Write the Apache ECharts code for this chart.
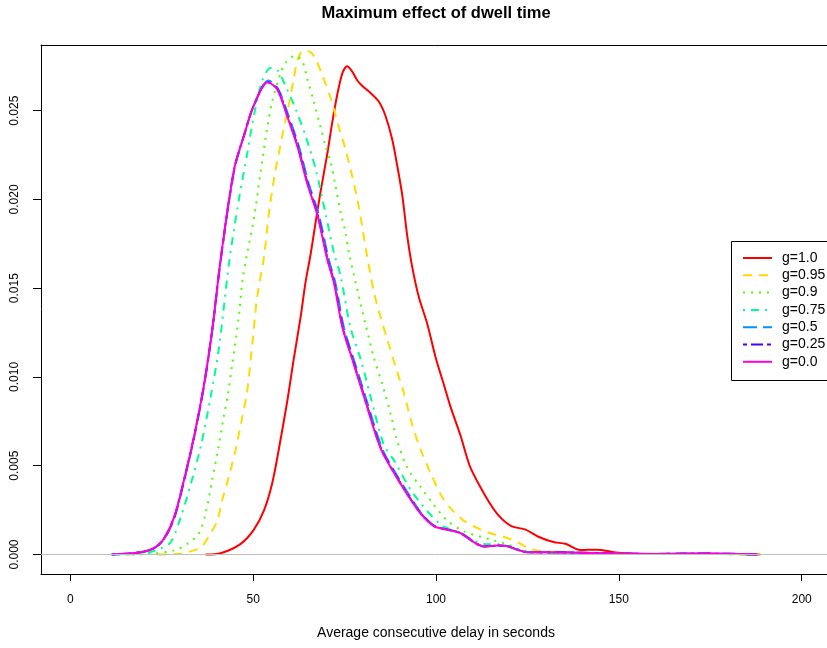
<!DOCTYPE html>
<html>
<head>
<meta charset="utf-8">
<title>Maximum effect of dwell time</title>
<script src="https://cdn.jsdelivr.net/npm/echarts@6/dist/echarts.min.js"></script>
<style>
  html, body { margin: 0; padding: 0; background: #fff; }
  #main { width: 827px; height: 648px; }
</style>
</head>
<body>
<div id="main"></div>
<script>
// labels and ticks
var seriesNames = ['g=1.0', 'g=0.95', 'g=0.9', 'g=0.75', 'g=0.5', 'g=0.25', 'g=0.0'];
var xTicks = [0, 50, 100, 150, 200];
var yTicks = [0, 0.005, 0.010, 0.015, 0.020, 0.025];

// density curves: [delay, density]
var g10 = [[37.0,0],[41.1,0.00007],[46.6,0.0006],[50.2,0.0014],[53.0,0.0025],[55.2,0.0040],[57.0,0.0059],
  [59.3,0.0086],[61.1,0.0110],[63.0,0.0134],[64.3,0.0153],[65.7,0.0169],[67.0,0.0186],[68.4,0.0204],
  [70.3,0.0226],[71.6,0.0243],[73.0,0.0259],[74.4,0.0271],[75.7,0.0275],[77.1,0.0272],[78.5,0.0267],
  [79.8,0.0264],[82.1,0.0260],[84.4,0.0255],[86.2,0.0247],[88.0,0.0234],[89.4,0.0219],[90.8,0.0202],
  [92.1,0.0180],[93.4,0.0163],[95.3,0.0145],[97.6,0.0130],[99.9,0.0111],[102.1,0.0096],[104.0,0.0083],
  [106.7,0.0067],[109.4,0.0049],[113.5,0.0033],[117.1,0.0022],[120.6,0.0016],[124.5,0.0014],[128.0,0.0010],
  [132.1,0.0007],[135.4,0.0006],[139.5,0.00025],[144.0,0.00027],[148.6,0.00013],[152.2,0.00007],
  [155.9,0.00003],[165,0.00002],[175,0.00004],[182,0.00002],[188.7,0]];

var g095 = [[23.8,0],[29.3,0.00002],[32.0,0.00013],[35.7,0.0004],[38.4,0.0012],[40.2,0.0019],[41.6,0.0031],
  [43.4,0.0044],[45.2,0.0059],[47.0,0.0077],[48.3,0.0091],[49.8,0.0119],[51.1,0.0145],[53.0,0.0168],
  [54.3,0.0192],[55.9,0.0214],[57.8,0.0234],[59.7,0.0253],[61.1,0.0268],[62.2,0.0279],[63.8,0.0284],
  [65.7,0.0283],[67.1,0.0279],[68.9,0.0270],[71.2,0.0257],[73.4,0.0241],[75.3,0.0228],[77.1,0.0213],
  [78.5,0.0200],[79.8,0.0185],[81.0,0.0170],[83.0,0.0148],[84.8,0.0134],[86.7,0.0121],[88.9,0.0106],
  [91.2,0.0091],[93.5,0.0073],[95.8,0.0059],[98.5,0.0046],[101.2,0.0034],[104.0,0.0026],[107.6,0.0019],
  [112.2,0.0014],[114.9,0.0012],[118.5,0.0010],[122.2,0.0007],[124.9,0.0004],[128.6,0.0002],
  [135.8,0.00014],[145,0.00006],[155,0.00003],[165,0.00004],[175,0.00003],[188.5,0]];

var g09 = [[17.0,0],[21.9,0.00003],[28.4,0.00023],[32.0,0.0006],[35.2,0.0012],[37.0,0.0023],[38.8,0.0042],
  [40.4,0.0059],[41.9,0.0077],[43.1,0.0090],[44.2,0.0106],[45.0,0.0117],[46.1,0.0134],[47.0,0.0153],
  [48.4,0.0170],[50.2,0.0189],[52.0,0.0215],[53.9,0.0241],[55.3,0.0256],[57.5,0.0271],[58.9,0.0277],
  [61.5,0.0281],[63.4,0.0278],[64.8,0.0268],[66.6,0.0255],[68.4,0.0241],[69.8,0.0230],[71.2,0.0221],
  [72.5,0.0208],[73.9,0.0193],[75.3,0.0181],[76.2,0.0170],[78.5,0.0149],[80.7,0.0130],[83.0,0.0111],
  [85.3,0.0096],[87.6,0.0079],[89.4,0.0064],[92.1,0.0049],[95.8,0.0038],[99.4,0.0028],[103.1,0.0019],
  [107.6,0.0013],[112.2,0.0010],[115.8,0.00079],[119.5,0.00057],[123.1,0.00027],[127.7,0.00013],
  [135,0.00008],[145,0.00005],[155,0.00003],[165,0.00004],[175,0.00003],[188,0]];

var g075 = [[13.0,0],[19.3,0.00003],[24.7,0.00034],[27.5,0.0007],[30.2,0.0021],[33.0,0.0040],[35.7,0.0061],
  [38.4,0.0089],[40.7,0.0117],[43.4,0.0164],[46.1,0.0200],[48.4,0.0226],[50.2,0.0247],[52.5,0.0267],
  [54.8,0.0274],[56.6,0.0273],[59.3,0.0262],[61.6,0.0251],[64.3,0.0236],[67.1,0.0217],[69.8,0.0192],
  [72.1,0.0170],[73.9,0.0157],[76.6,0.0128],[79.4,0.0110],[82.1,0.0089],[85.7,0.0062],[88.5,0.0053],
  [93.9,0.0034],[101.2,0.0017],[106.7,0.0012],[110.3,0.0008],[114.0,0.00057],[117.6,0.00057],
  [121.3,0.00032],[124.9,0.00013],[135,0.00008],[145,0.00004],[155,0.00003],[165,0.00004],[175,0.00003],[188,0]];

var g05 = [[11.5,0],[19.3,0.00012],[22.9,0.00034],[25.6,0.00085],[28.4,0.0020],[31.1,0.0041],[33.8,0.0065],
  [36.6,0.0095],[38.9,0.0127],[41.1,0.0165],[44.8,0.0216],[47.5,0.0236],[50.2,0.0253],[54.2,0.0267],
  [56.9,0.0262],[59.7,0.0247],[62.5,0.0230],[65.2,0.0209],[68.0,0.0191],[70.7,0.0166],[72.5,0.0153],
  [74.8,0.0128],[77.5,0.0110],[80.7,0.0089],[85.2,0.0060],[88.9,0.0046],[92.5,0.0034],[96.1,0.0023],
  [99.7,0.0016],[103.3,0.0014],[106.9,0.0012],[110.5,0.0007],[113.3,0.00045],[116.9,0.0005],
  [119.7,0.00047],[122.4,0.00027],[125.1,0.00013],[130.6,0.00013],[139.7,0.0001],[150,0.00005],
  [160,0.00003],[170,0.00005],[180,0.00004],[188,0]];

var g025 = [[11.3,0],[19.3,0.00013],[22.9,0.00036],[25.6,0.00088],[28.4,0.0021],[31.1,0.0042],[33.8,0.0066],
  [36.6,0.0096],[38.9,0.0128],[41.1,0.0166],[44.8,0.0217],[47.5,0.0236],[50.2,0.0253],[54.0,0.0266],
  [56.7,0.0262],[59.4,0.0247],[62.2,0.0230],[64.9,0.0209],[67.7,0.0191],[70.4,0.0166],[72.2,0.0153],
  [74.5,0.0128],[77.2,0.0110],[80.4,0.0089],[84.9,0.0060],[88.6,0.0046],[92.2,0.0034],[95.9,0.0023],
  [99.5,0.0016],[103.1,0.0014],[106.7,0.0012],[110.3,0.0007],[113.1,0.00045],[116.7,0.0005],
  [119.5,0.00047],[122.2,0.00027],[124.9,0.00013],[130.4,0.00013],[139.5,0.0001],[150,0.00005],
  [160,0.00003],[170,0.00005],[180,0.00004],[187.8,0]];

var g00 = [[11.3,0],[19.3,0.00013],[22.9,0.00036],[25.6,0.00089],[28.4,0.0021],[31.1,0.0042],[33.8,0.0066],
  [36.6,0.0096],[38.9,0.0128],[41.1,0.0166],[44.8,0.0217],[47.5,0.0236],[50.2,0.0253],[54.0,0.0266],
  [56.6,0.0262],[59.3,0.0247],[62.1,0.0230],[64.8,0.0209],[67.6,0.0191],[70.3,0.0166],[72.1,0.0153],
  [74.4,0.0128],[77.1,0.0110],[80.3,0.0089],[84.8,0.0060],[88.5,0.0046],[92.1,0.0034],[95.8,0.0023],
  [99.4,0.0016],[103.1,0.0014],[106.7,0.0012],[110.3,0.0007],[113.1,0.00045],[116.7,0.0005],
  [119.5,0.00047],[122.2,0.00027],[124.9,0.00013],[130.4,0.00013],[139.5,0.0001],[150,0.00005],
  [160,0.00003],[170,0.00005],[180,0.00004],[187.8,0]];

var curves = [g10, g095, g09, g075, g05, g025, g00];
// rainbow(7)
var colors = ['#FF0000', '#FFDB00', '#49FF00', '#00FF92', '#0092FF', '#4900FF', '#FF00DB'];
var dashes = ['solid', [9, 7], [2, 6], [2, 6, 8, 6], [14, 6], [4, 4, 12, 4], 'solid'];

var myChart = echarts.init(document.getElementById('main'));

var series = [];
for (var i = 0; i < curves.length; i++) {
  var s = {
    name: seriesNames[i],
    type: 'line',
    data: curves[i],
    smooth: 0.3,
    symbol: 'none',
    silent: true,
    lineStyle: { color: colors[i], width: 2, type: dashes[i] },
    itemStyle: { color: colors[i] }
  };
  if (i == 0) {
    // zero line of the density plot
    s.markLine = {
      silent: true,
      symbol: ['none', 'none'],
      label: { show: false },
      lineStyle: { color: '#BEBEBE', type: 'solid', width: 1 },
      data: [{ yAxis: 0 }]
    };
  }
  series.push(s);
}

var font = 'Liberation Sans, Arial, Helvetica, sans-serif';
var boxLine = { show: true, onZero: false, lineStyle: { color: '#000', width: 1 } };

var option = {
  animation: false,
  backgroundColor: '#fff',
  title: {
    text: 'Maximum effect of dwell time',
    left: 431,
    textAlign: 'center',
    top: 0,
    textStyle: { fontFamily: font, fontSize: 16.5, fontWeight: 'bold', color: '#000' }
  },
  // legend frame, it runs off the right edge like the plot box
  graphic: [{
    type: 'rect',
    left: 731,
    top: 241,
    silent: true,
    shape: { width: 110, height: 139 },
    style: { fill: '#fff', stroke: '#000', lineWidth: 1 }
  }],
  legend: {
    orient: 'vertical',
    left: 731,
    top: 241,
    padding: [10, 10, 10, 11],
    itemWidth: 29,
    itemHeight: 14,
    itemGap: 3.3,
    borderWidth: 0,
    itemStyle: { opacity: 0 },
    data: seriesNames,
    textStyle: { fontFamily: font, fontSize: 14, color: '#000', padding: [0, 0, 0, 5] }
  },
  grid: {
    left: 41,
    top: 45,
    width: 790,
    bottom: 74,
    outerBoundsMode: 'none'
  },
  xAxis: [{
    type: 'value',
    position: 'bottom',
    min: -8,
    max: 208,
    name: 'Average consecutive delay in seconds',
    nameLocation: 'middle',
    nameGap: 52,
    nameTextStyle: { fontFamily: font, fontSize: 14, color: '#000' },
    splitLine: { show: false },
    axisLine: boxLine,
    axisTick: { show: true, length: 7, customValues: xTicks, lineStyle: { color: '#000' } },
    axisLabel: {
      customValues: xTicks,
      margin: 20,
      fontFamily: font,
      fontSize: 12,
      color: '#000'
    }
  }, {
    // top edge of the plot box
    type: 'value',
    position: 'top',
    min: -8,
    max: 208,
    splitLine: { show: false },
    axisLine: boxLine,
    axisTick: { show: false },
    axisLabel: { show: false }
  }],
  yAxis: {
    type: 'value',
    min: -0.0011,
    max: 0.0287,
    splitLine: { show: false },
    axisLine: boxLine,
    axisTick: { show: true, length: 8, customValues: yTicks, lineStyle: { color: '#000' } },
    axisLabel: {
      customValues: yTicks,
      rotate: 90,
      margin: 20,
      fontFamily: font,
      fontSize: 12,
      color: '#000',
      formatter: function (v) { return v.toFixed(3); }
    }
  },
  series: series
};

myChart.setOption(option);
</script>
</body>
</html>
